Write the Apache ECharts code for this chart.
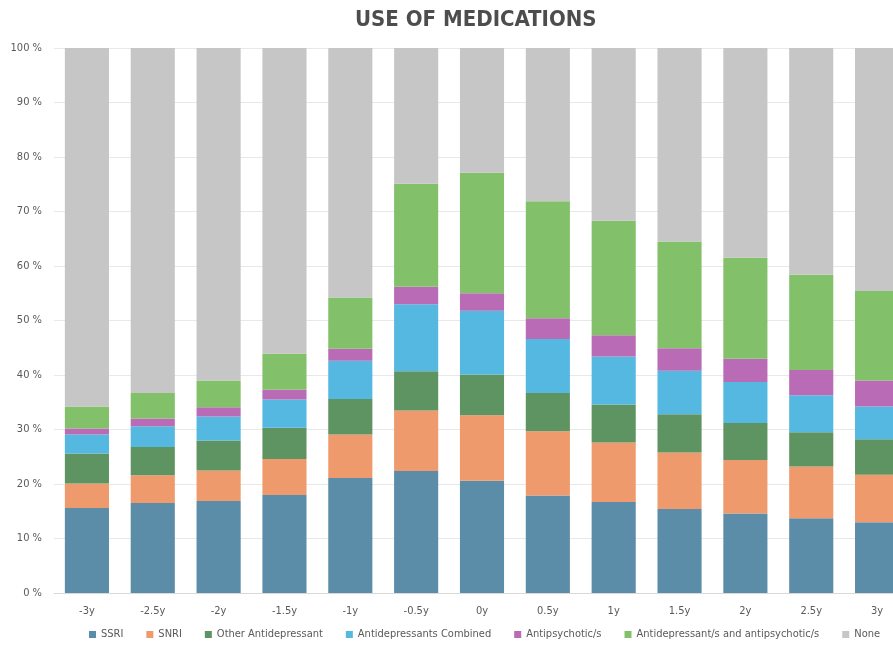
<!DOCTYPE html>
<html>
<head>
<meta charset="utf-8">
<script src="https://cdn.jsdelivr.net/npm/echarts@6/dist/echarts.min.js"></script>
<style>
  html, body { margin: 0; padding: 0; background: #fff; overflow: hidden; }
  /* the reference is cropped at the right edge, so the chart is a bit wider than the window */
  #main { width: 910px; height: 646px; }
</style>
</head>
<body>
<div id="main"></div>
<script>
// time points relative to start of treatment
const periods = ["-3y", "-2.5y", "-2y", "-1.5y", "-1y", "-0.5y", "0y", "0.5y", "1y", "1.5y", "2y", "2.5y", "3y"];

// share of patients (%) in each group
const ssri      = [15.6, 16.5, 16.9, 18.0, 21.1, 22.4, 20.6, 17.9, 16.7, 15.4, 14.6, 13.7, 13.0];
const snri      = [4.5, 5.1, 5.6, 6.6, 8.0, 11.1, 12.0, 11.8, 10.9, 10.4, 9.8, 9.5, 8.7];
const otherAd   = [5.5, 5.2, 5.5, 5.7, 6.5, 7.2, 7.5, 7.0, 7.0, 7.0, 6.8, 6.3, 6.5];
const adCombo   = [3.5, 3.8, 4.4, 5.2, 7.0, 12.3, 11.7, 9.9, 8.8, 8.0, 7.5, 6.8, 6.0];
const antipsych = [1.1, 1.4, 1.7, 1.8, 2.2, 3.2, 3.2, 3.8, 3.9, 4.1, 4.3, 4.6, 4.8];
const adAndAp   = [4.0, 4.7, 4.9, 6.6, 9.4, 18.9, 22.1, 21.5, 21.0, 19.6, 18.5, 17.5, 16.4];
const noneUse   = [65.8, 63.3, 61.0, 56.1, 45.8, 24.9, 22.9, 28.1, 31.7, 35.5, 38.5, 41.6, 44.6];

const seriesNames = ["SSRI", "SNRI", "Other Antidepressant", "Antidepressants Combined",
  "Antipsychotic/s", "Antidepressant/s and antipsychotic/s", "None"];
const seriesData = [ssri, snri, otherAd, adCombo, antipsych, adAndAp, noneUse];
const colors = ["#5b8da8", "#ef9a6c", "#5e9462", "#55b8e0", "#b96bb5", "#83c06a", "#c6c6c6"];

const narrow = "'DejaVu Sans Condensed', 'Liberation Sans', sans-serif";

var chart = echarts.init(document.getElementById("main"));

var option = {
  animation: false,
  color: colors,
  title: {
    text: "USE OF MEDICATIONS",
    left: 350,
    top: 4,
    textStyle: {
      fontFamily: narrow,
      fontSize: 22,
      fontWeight: "bold",
      color: "#4d4d4d"
    }
  },
  grid: {
    left: 54,
    top: 48,
    right: 0,
    bottom: 53,
    containLabel: false
  },
  legend: {
    bottom: 1,
    left: 84,
    icon: "rect",
    itemWidth: 7,
    itemHeight: 7,
    itemGap: 23,
    textStyle: { fontFamily: narrow, fontSize: 11, color: "#595959" },
    data: seriesNames
  },
  xAxis: {
    type: "category",
    data: periods,
    axisTick: { show: false },
    axisLine: { lineStyle: { color: "#d9d9d9" } },
    axisLabel: { margin: 13, fontFamily: narrow, fontSize: 11, color: "#595959" }
  },
  yAxis: {
    type: "value",
    min: 0,
    max: 100,
    interval: 10,
    axisLine: { show: false },
    axisTick: { show: false },
    splitLine: { lineStyle: { color: "#e8e8e8" } },
    axisLabel: {
      margin: 12,
      formatter: "{value} %",
      fontFamily: narrow,
      fontSize: 11,
      color: "#595959"
    }
  },
  series: seriesNames.map(function (name, i) {
    return {
      name: name,
      type: "bar",
      stack: "total",
      barCategoryGap: "33%",
      data: seriesData[i]
    };
  })
};

chart.setOption(option);
</script>
</body>
</html>
